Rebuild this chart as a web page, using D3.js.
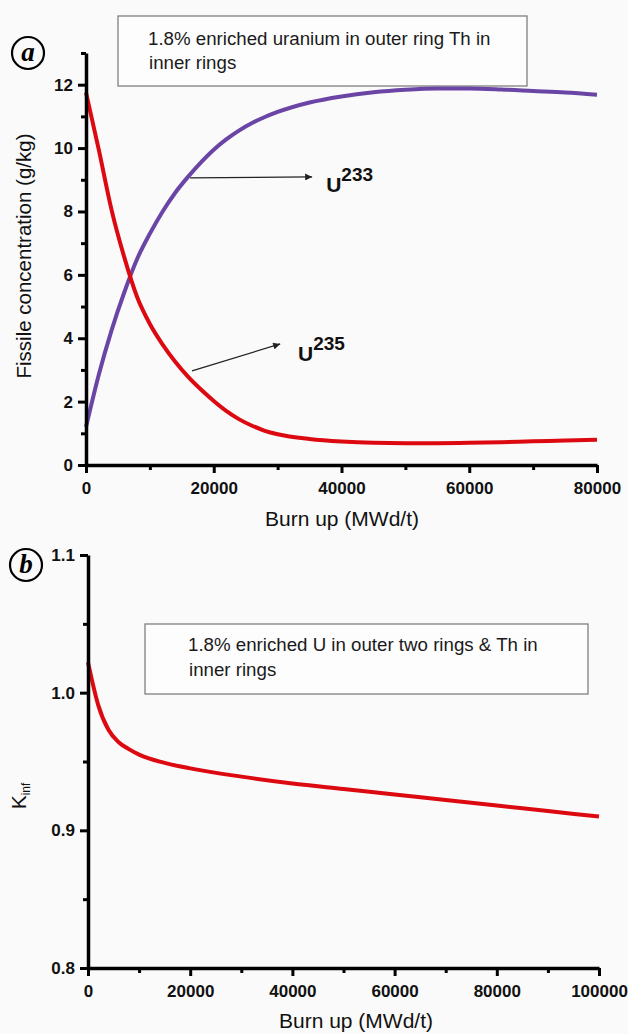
<!DOCTYPE html>
<html>
<head>
<meta charset="utf-8">
<script src="https://cdn.jsdelivr.net/npm/d3@7"></script>
<style>
  body { margin: 0; background: #fafafa; }
  svg { display: block; }
</style>
</head>
<body>
<div id="chart"></div>
<script>
/* DATA */
// Panel a: fissile concentration vs burn up
const burnA = [0, 2000, 4000, 6000, 8000, 10000, 12000, 14000, 16000, 18000, 20000, 22000, 24000, 26000, 28000, 30000, 35000, 40000, 45000, 50000, 55000, 60000, 65000, 70000, 75000, 80000];
const u235 = [11.75, 9.95, 8.05, 6.55, 5.3, 4.45, 3.8, 3.25, 2.78, 2.38, 2.02, 1.7, 1.44, 1.24, 1.08, 0.97, 0.82, 0.74, 0.7, 0.69, 0.69, 0.7, 0.72, 0.75, 0.77, 0.8];
const u233 = [1.2, 2.85, 4.25, 5.45, 6.5, 7.3, 8.0, 8.6, 9.1, 9.55, 9.95, 10.28, 10.56, 10.79, 10.98, 11.14, 11.44, 11.63, 11.76, 11.84, 11.88, 11.88, 11.85, 11.8, 11.75, 11.68];
const xTicksA = [0, 20000, 40000, 60000, 80000];
const xMinorA = [10000, 30000, 50000, 70000];
const yTicksA = [0, 2, 4, 6, 8, 10, 12];
const yMinorA = [1, 3, 5, 7, 9, 11, 13];
const noteA = ["1.8% enriched uranium in outer ring Th in", "inner rings"];

// Panel b: k-inf vs burn up
const burnB = [0, 2000, 4000, 6000, 8000, 10000, 15000, 20000, 30000, 40000, 50000, 60000, 70000, 80000, 90000, 100000];
const kinf = [1.022, 0.991, 0.973, 0.964, 0.959, 0.955, 0.949, 0.945, 0.939, 0.934, 0.93, 0.926, 0.922, 0.918, 0.914, 0.91];
const xTicksB = [0, 20000, 40000, 60000, 80000, 100000];
const xMinorB = [10000, 30000, 50000, 70000, 90000];
const yTicksB = [0.8, 0.9, 1.0, 1.1];
const yMinorB = [0.85, 0.95, 1.05];
const noteB = ["1.8% enriched U in outer two rings & Th in", "inner rings"];

// Colors
const red = "#dc0a10";
const purple = "#6a45a6";
const sans = "Arial, 'Liberation Sans', sans-serif";

const W = 628, H = 1034;
const svg = d3.select("#chart").append("svg")
    .attr("width", W)
    .attr("height", H);
svg.append("rect").attr("width", W).attr("height", H).attr("fill", "#fafafa");

// Draw a pair of axes (major + minor ticks)
function drawAxes(x, y, xt, xm, yt, ym, yFmt) {
    const x0 = x.range()[0], y0 = y.range()[0];
    // minor
    svg.append("g").attr("transform", `translate(0,${y0})`)
        .call(d3.axisBottom(x).tickValues(xm).tickSize(5).tickSizeOuter(0).tickFormat(""))
        .call(g => g.select(".domain").remove());
    svg.append("g").attr("transform", `translate(${x0},0)`)
        .call(d3.axisLeft(y).tickValues(ym).tickSize(5).tickSizeOuter(0).tickFormat(""))
        .call(g => g.select(".domain").remove());
    // major
    const gx = svg.append("g").attr("transform", `translate(0,${y0})`)
        .call(d3.axisBottom(x).tickValues(xt).tickSize(8).tickPadding(9).tickSizeOuter(0).tickFormat(d3.format("d")));
    const gy = svg.append("g").attr("transform", `translate(${x0},0)`)
        .call(d3.axisLeft(y).tickValues(yt).tickSize(8).tickPadding(5).tickSizeOuter(0).tickFormat(yFmt));
    svg.selectAll(".tick line").attr("stroke", "#000").attr("stroke-width", 3);
    [gx, gy].forEach(g => {
        g.select(".domain").attr("stroke", "#000").attr("stroke-width", 3.5);
        g.selectAll("text")
            .attr("fill", "#111")
            .style("font-family", sans)
            .style("font-weight", "bold")
            .style("font-size", "17px");
    });
}

// Note box
function noteBox(x, y, w, h, lines, tx, ty, lh) {
    svg.append("rect")
        .attr("x", x).attr("y", y).attr("width", w).attr("height", h)
        .attr("fill", "#fdfdfd").attr("stroke", "#808080").attr("stroke-width", 1.3);
    svg.append("g").selectAll("text")
        .data(lines)
        .join("text")
        .attr("x", (d, i) => tx + (i ? 1 : 0))
        .attr("y", (d, i) => ty + i * lh)
        .attr("fill", "#1a1a1a")
        .style("font-family", sans)
        .style("font-size", "18.7px")
        .text(d => d);
}

// Circled panel letter
function panelLetter(cx, cy, letter) {
    svg.append("circle").attr("cx", cx).attr("cy", cy).attr("r", 16)
        .attr("fill", "none").attr("stroke", "#000").attr("stroke-width", 2.2);
    svg.append("text").attr("x", cx).attr("y", cy + 8)
        .attr("text-anchor", "middle")
        .style("font-family", "'Liberation Serif', 'DejaVu Serif', serif")
        .style("font-style", "italic").style("font-weight", "bold")
        .style("font-size", "27px")
        .text(letter);
}

// Arrow marker
svg.append("defs").append("marker")
    .attr("id", "arr").attr("viewBox", "0 0 10 10")
    .attr("refX", 10).attr("refY", 5)
    .attr("markerWidth", 9).attr("markerHeight", 7)
    .attr("markerUnits", "userSpaceOnUse")
    .attr("orient", "auto")
    .append("path").attr("d", "M0,0L10,5L0,10z").attr("fill", "#222");

function isotopeLabel(x, y, from, to, lx, ly, mass) {
    svg.append("line")
        .attr("x1", x(from[0])).attr("y1", y(from[1]))
        .attr("x2", x(to[0])).attr("y2", y(to[1]))
        .attr("stroke", "#222").attr("stroke-width", 1.3)
        .attr("marker-end", "url(#arr)");
    const t = svg.append("text")
        .attr("x", x(lx)).attr("y", y(ly))
        .attr("fill", "#111")
        .style("font-family", sans).style("font-weight", "bold")
        .style("font-size", "21px");
    t.append("tspan").text("U");
    t.append("tspan").attr("dy", -11).style("font-size", "19px").text(mass);
}

/* PANEL A */
const xA = d3.scaleLinear().domain([0, 80000]).range([86, 597]);
const yA = d3.scaleLinear().domain([0, 13]).range([465, 53]);

noteBox(118, 16, 409, 70, noteA, 148, 45, 24);

const lineA = (ys) => d3.line()
    .x((d, i) => xA(burnA[i]))
    .y(d => yA(d))
    .curve(d3.curveMonotoneX)(ys);

svg.append("path").attr("d", lineA(u233))
    .attr("fill", "none").attr("stroke", purple).attr("stroke-width", 4);
svg.append("path").attr("d", lineA(u235))
    .attr("fill", "none").attr("stroke", red).attr("stroke-width", 4);

drawAxes(xA, yA, xTicksA, xMinorA, yTicksA, yMinorA, d3.format("d"));

isotopeLabel(xA, yA, [16300, 9.06], [35400, 9.09], 37600, 8.6, "233");
isotopeLabel(xA, yA, [16600, 2.97], [30400, 3.82], 33200, 3.28, "235");

svg.append("text").attr("x", 342).attr("y", 526)
    .attr("text-anchor", "middle").attr("fill", "#111")
    .style("font-family", sans).style("font-size", "21px")
    .text("Burn up (MWd/t)");
svg.append("text")
    .attr("transform", "translate(31,256) rotate(-90)")
    .attr("text-anchor", "middle").attr("fill", "#111")
    .style("font-family", sans).style("font-size", "20.5px")
    .text("Fissile concentration (g/kg)");

panelLetter(28, 53, "a");

/* PANEL B */
const xB = d3.scaleLinear().domain([0, 100000]).range([88, 599]);
const yB = d3.scaleLinear().domain([0.8, 1.1]).range([968, 555]);

noteBox(145, 624, 443, 70, noteB, 188, 651, 25);

svg.append("path")
    .attr("d", d3.line()
        .x((d, i) => xB(burnB[i]))
        .y(d => yB(d))
        .curve(d3.curveMonotoneX)(kinf))
    .attr("fill", "none").attr("stroke", red).attr("stroke-width", 4);

drawAxes(xB, yB, xTicksB, xMinorB, yTicksB, yMinorB, d3.format(".1f"));

svg.append("text").attr("x", 356).attr("y", 1028)
    .attr("text-anchor", "middle").attr("fill", "#111")
    .style("font-family", sans).style("font-size", "21px")
    .text("Burn up (MWd/t)");
const kl = svg.append("text")
    .attr("transform", "translate(26,796) rotate(-90)")
    .attr("text-anchor", "middle").attr("fill", "#111")
    .style("font-family", sans).style("font-size", "21px");
kl.append("tspan").text("K");
kl.append("tspan").attr("dy", 4).style("font-size", "12px").text("inf");

panelLetter(26, 565, "b");
</script>
</body>
</html>
